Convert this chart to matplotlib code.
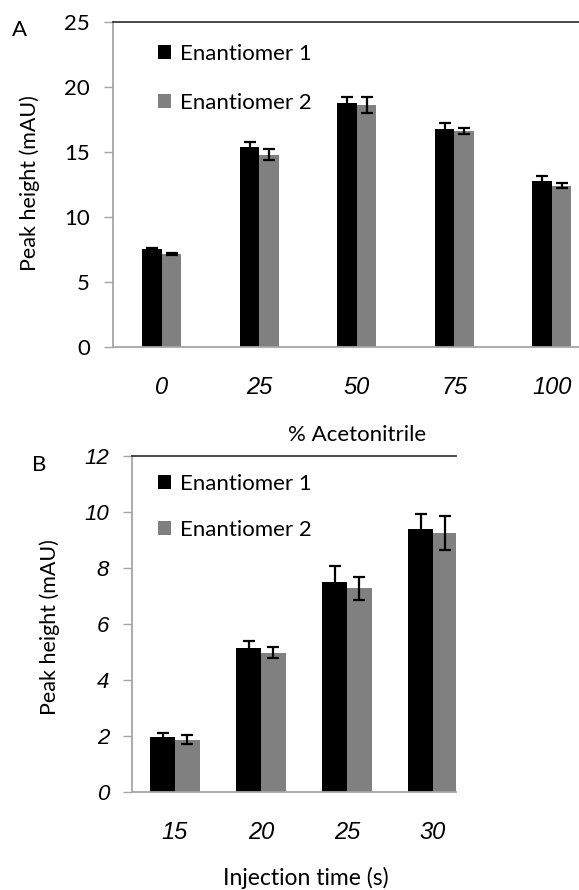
import matplotlib
matplotlib.use("Agg")
import matplotlib.pyplot as plt
import numpy as np

# panel A: peak height vs acetonitrile content
acn_labels = ["0", "25", "50", "75", "100"]
acn_e1 = [7.55, 15.35, 18.8, 16.75, 12.75]
acn_e2 = [7.15, 14.8, 18.6, 16.6, 12.4]
acn_err1 = [0.1, 0.4, 0.45, 0.5, 0.4]
acn_err2 = [0.1, 0.4, 0.6, 0.25, 0.2]

# panel B: peak height vs injection time
inj_labels = ["15", "20", "25", "30"]
inj_e1 = [1.95, 5.15, 7.5, 9.4]
inj_e2 = [1.87, 4.97, 7.27, 9.25]
inj_err1 = [0.15, 0.23, 0.57, 0.53]
inj_err2 = [0.17, 0.2, 0.42, 0.6]

W, H = 579, 890
CAL = "Lato"
ARI = "Liberation Sans"
GRID_GREY = "#a6a6a6"
BAR2 = "#808080"


def px_axes(fig, left, right, top, bottom):
    return fig.add_axes([left / W, (H - bottom) / H, (right - left) / W, (bottom - top) / H])


def panel(ax, labels, v1, v2, e1, e2, width, xmax, ymax, step):
    x = np.arange(len(labels))
    kw = dict(error_kw=dict(ecolor="black", elinewidth=1.6, capthick=1.6), capsize=4.5)
    b1 = ax.bar(x - width / 2, v1, width, yerr=e1, color="black", label="Enantiomer 1", **kw)
    b2 = ax.bar(x + width / 2, v2, width, yerr=e2, color=BAR2, label="Enantiomer 2", **kw)
    ax.set_xlim(-0.5, xmax)
    ax.set_ylim(0, ymax)
    ax.set_yticks(np.arange(0, ymax + 0.01, step))
    ax.set_xticks(x)
    ax.set_xticklabels(labels, fontfamily=ARI, fontstyle="italic", fontsize=17)
    for s in ("left", "bottom"):
        ax.spines[s].set_color(GRID_GREY)
        ax.spines[s].set_linewidth(1.3)
    ax.spines["right"].set_visible(False)
    ax.spines["top"].set_color("#3a3a3a")
    ax.spines["top"].set_linewidth(1.3)
    ax.tick_params(axis="x", length=0, pad=21)
    ax.tick_params(axis="y", length=6.5, width=1.0, color=GRID_GREY, pad=10)
    return b1, b2


def add_legend(ax, top_px, spacing):
    ax.legend(loc="upper left", bbox_to_anchor=(158 / W, (H - top_px) / H),
              bbox_transform=fig.transFigure, frameon=False,
              prop=dict(family=CAL, size=16), handlelength=0.6, handleheight=0.6,
              handletextpad=0.4, labelspacing=spacing, borderpad=0, borderaxespad=0)


fig = plt.figure(figsize=(W / 100, H / 100), dpi=100)

# --- A ---
axA = px_axes(fig, 113, 579, 22, 347)
panel(axA, acn_labels, acn_e1, acn_e2, acn_err1, acn_err2,
      0.2, -0.5 + 466 / 97.5, 25, 5)
for t in axA.get_yticklabels():
    t.set_fontfamily(CAL)
    t.set_fontsize(16)
axA.set_ylabel("Peak height (mAU)", fontfamily=CAL, fontsize=15.5, va="center", ha="center")
axA.yaxis.set_label_coords(-0.178, 0.503)
axA.set_xlabel("% Acetonitrile", fontfamily=CAL, fontsize=16, va="center", ha="center")
axA.xaxis.set_label_coords(0.5236, -0.271)
add_legend(axA, 44, 1.3)
fig.text(20 / W, (H - 30.5) / H, "A", fontfamily=CAL, fontsize=16, ha="center", va="center")

# --- B ---
axB = px_axes(fig, 132, 456, 456, 792)
panel(axB, inj_labels, inj_e1, inj_e2, inj_err1, inj_err2,
      1 / 3.5, -0.5 + 324 / 86, 12, 2)
for t in axB.get_yticklabels():
    t.set_fontfamily(ARI)
    t.set_fontstyle("italic")
    t.set_fontsize(16)
axB.set_ylabel("Peak height (mAU)", fontfamily=CAL, fontsize=15.5, va="center", ha="center")
axB.yaxis.set_label_coords(-0.253, 0.491)
axB.set_xlabel("Injection time (s)", fontfamily=CAL, fontsize=16.5, va="center", ha="center")
axB.xaxis.set_label_coords(0.536, -0.256)
add_legend(axB, 474, 1.15)
fig.text(39 / W, (H - 465) / H, "B", fontfamily=CAL, fontsize=16, ha="center", va="center")

fig.savefig("out.png", dpi=100)
